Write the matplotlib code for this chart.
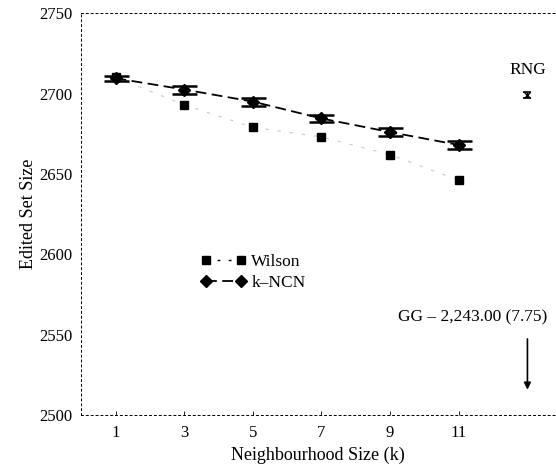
import matplotlib
matplotlib.use("Agg")
import matplotlib.pyplot as plt
from matplotlib.lines import Line2D

k_values = [1, 3, 5, 7, 9, 11]
wilson = [2710, 2693, 2679, 2673, 2662, 2646]
kncn = [2709.5, 2702.5, 2695, 2684.5, 2676, 2668]
kncn_err = [1.5, 2.5, 2.5, 2.0, 2.5, 2.5]
rng_x = 13
rng_val = 2699
rng_err = 2.0
x_ticks = [1, 3, 5, 7, 9, 11]
y_ticks = [2500, 2550, 2600, 2650, 2700, 2750]
gg_text = "GG \u2013 2,243.00 (7.75)"

plt.rcParams['font.family'] = ['Liberation Serif', 'DejaVu Serif']

fig = plt.figure(figsize=(5.56, 4.71), dpi=100)
ax = fig.add_axes([0.146, 0.119, 0.852, 0.853])

ax.plot(k_values, wilson, linestyle=(0, (3, 8)), color='#c8c8c8', linewidth=0.8,
        marker='s', markersize=6, markerfacecolor='black', markeredgecolor='black')
ax.errorbar(k_values, kncn, yerr=kncn_err, linestyle=(0, (6, 3)), color='black',
            linewidth=1.3, marker='D', markersize=6, capsize=9, capthick=1.8,
            elinewidth=1.2)
ax.errorbar([rng_x], [rng_val], yerr=[rng_err], linestyle='none', color='black',
            marker='x', markersize=4, capsize=3, capthick=1.2, elinewidth=1.0)
ax.text(rng_x, 2714.5, 'RNG', ha='center', va='center', fontsize=12.5)

ax.text(13.57, 2561, gg_text, ha='right', va='center', fontsize=12.5)
ax.annotate('', xy=(rng_x, 2514), xytext=(rng_x, 2549),
            arrowprops=dict(arrowstyle='-|>', color='black', lw=1.2,
                            mutation_scale=10))

ax.set_xlim(0, 13.8)
ax.set_ylim(2500, 2750)
ax.set_xticks(x_ticks)
ax.set_yticks(y_ticks)
ax.tick_params(axis='both', direction='in', length=3, width=0.6, labelsize=12)
ax.tick_params(axis='x', pad=7)
ax.tick_params(axis='y', length=0, pad=6)

for side in ['top', 'bottom', 'left']:
    ax.spines[side].set_linestyle((0, (2, 3)))
    ax.spines[side].set_linewidth(0.7)
ax.spines['right'].set_visible(False)

ax.set_xlabel('Neighbourhood Size (k)', fontsize=13, labelpad=4)
ax.set_ylabel('Edited Set Size', fontsize=13, labelpad=2)

handles = [
    Line2D([], [], linestyle=(0, (2, 6)), color='black', linewidth=1.0,
           marker='s', markersize=6),
    Line2D([], [], linestyle=(0, (6, 3)), color='black', linewidth=1.3,
           marker='D', markersize=6),
]
ax.legend(handles, ['Wilson', 'k\u2013NCN'], loc='upper left',
          bbox_to_anchor=(0.22, 0.44), frameon=False, fontsize=12.5,
          numpoints=2, handlelength=2.6, handletextpad=0.3, labelspacing=0.3)

fig.savefig('out.png', dpi=100)
